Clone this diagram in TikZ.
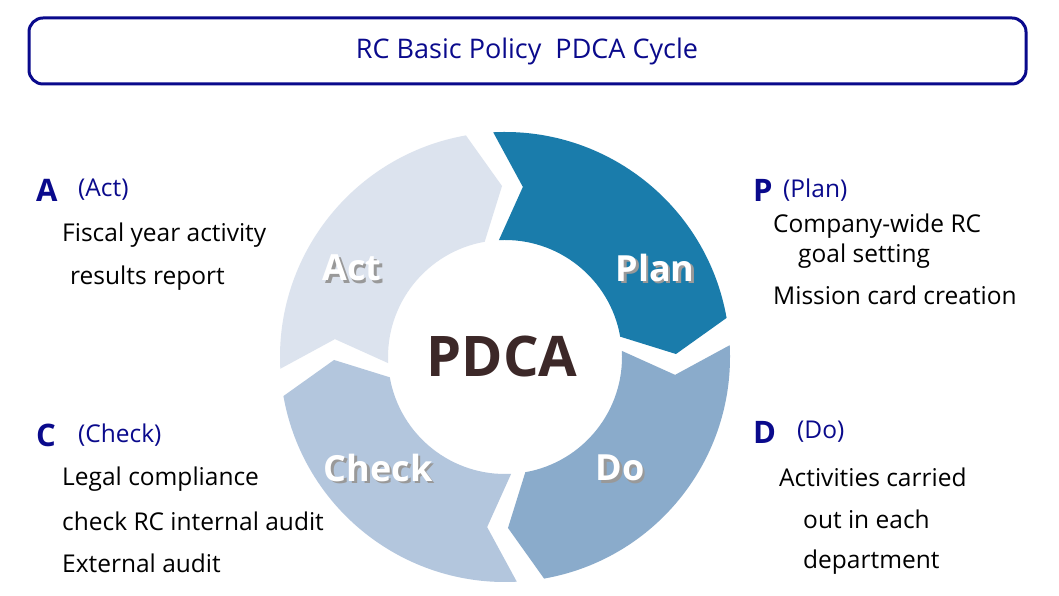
\documentclass[tikz,border=0pt]{standalone}
\usepackage{fontspec}
\setmainfont{Open Sans}
\definecolor{navy}{HTML}{0A0A8C}
\definecolor{cplan}{HTML}{1A7CAB}
\definecolor{cdo}{HTML}{8AABCB}
\definecolor{ccheck}{HTML}{B3C6DD}
\definecolor{cact}{HTML}{DCE3EE}
\definecolor{cpdca}{HTML}{3C2828}
\begin{document}
\begin{tikzpicture}[x=1pt,y=1pt,
  body/.style={anchor=west,font=\fontsize{24.5}{26}\selectfont,inner sep=0},
  head/.style={anchor=west,font=\fontsize{24.5}{26}\selectfont,text=navy,inner sep=0},
  letter/.style={anchor=west,font=\fontsize{31}{32}\selectfont\bfseries,text=navy,inner sep=0},
  seglab/.style={font=\fontsize{36}{40}\selectfont\bfseries,text=white},
  seglabsh/.style={font=\fontsize{36}{40}\selectfont\bfseries,text=black!40}]
\useasboundingbox (0,0) rectangle (1059,596);
\fill[white] (0,0) rectangle (1059,596);
\node[draw=navy,line width=3pt,rounded corners=14pt,minimum width=997pt,minimum height=66pt] (title) at (527.5,545) {};
\node[text=navy,font=\fontsize{27}{28}\selectfont] (tt) at (527,545) {RC Basic Policy\ \ PDCA Cycle};
\coordinate (c) at (505,239);
\newcommand\seg[2]{%
  \fill[#1] ([shift={(c)}]#2:225) arc[start angle=#2,end angle={#2-83},radius=225]
    -- ([shift={(c)}]{#2-92}:171) -- ([shift={(c)}]{#2-83}:117)
    arc[start angle={#2-83},end angle=#2,radius=117]
    -- ([shift={(c)}]{#2-9}:171) -- cycle;}
\seg{cplan}{93}
\seg{cdo}{3}
\seg{ccheck}{-87}
\seg{cact}{-177}
\foreach \n/\t/\x/\y in {la/Act/352/328, lp/Plan/655/328, ld/Do/620/128, lc/Check/378/128}{
  \node[seglabsh] at (\x+2.5,\y-2.5) {\t};
  \node[seglab] (\n) at (\x,\y) {\t};}
\node[text=cpdca,font=\fontsize{56}{58}\selectfont\bfseries] (pdca) at (502,239) {PDCA};
% A
\node[letter] (A) at (36,406) {A};
\node[head] (Ah) at (78,406) {(Act)};
\node[body] (a1) at (62,361) {Fiscal year activity};
\node[body] (a2) at (70,318) {results report};
% P
\node[letter] (P) at (753,406) {P};
\node[head] (Ph) at (783,406) {(Plan)};
\node[body] (p1) at (773,370) {Company-wide RC};
\node[body] (p2) at (798,340) {goal setting};
\node[body] (p3) at (773,301) {Mission card creation};
% C
\node[letter] (C) at (36,161) {C};
\node[head] (Ch) at (78,161) {(Check)};
\node[body] (c1) at (62,117) {Legal compliance};
\node[body] (c2) at (62,75) {check RC internal audit};
\node[body] (c3) at (62,33) {External audit};
% D
\node[letter] (D) at (753,164) {D};
\node[head] (Dh) at (797,164) {(Do)};
\node[body] (d1) at (779,119) {Activities carried};
\node[body] (d2) at (803,77) {out in each};
\node[body] (d3) at (803,34) {department};
\end{tikzpicture}
\end{document}
